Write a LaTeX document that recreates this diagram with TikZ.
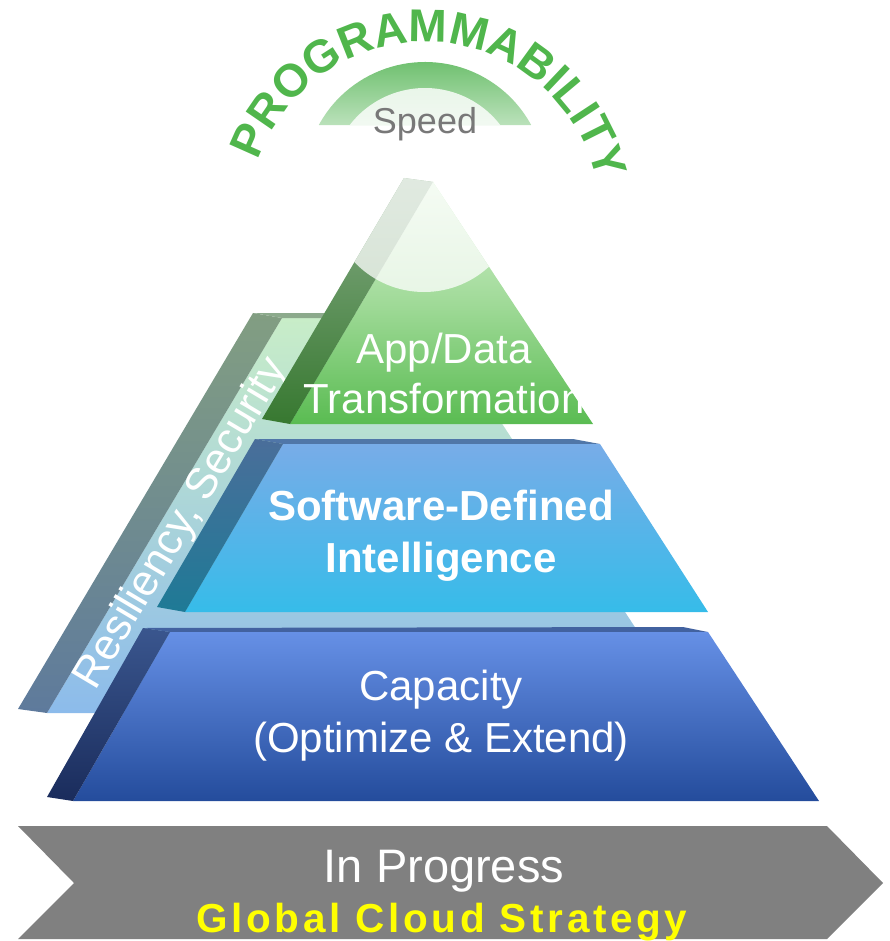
\documentclass[tikz,border=0pt]{standalone}
\usepackage{fontspec}
\setmainfont{Liberation Sans}
\usetikzlibrary{decorations.text}
\definecolor{progGreen}{RGB}{80,182,76}
\definecolor{speedGray}{RGB}{120,120,120}
\definecolor{ringGreen}{RGB}{92,184,92}
\definecolor{ringPale}{RGB}{232,245,232}
\definecolor{backFaceTop}{RGB}{200,237,200}
\definecolor{backFaceBot}{RGB}{140,187,235}
\definecolor{backEdgeTop}{RGB}{130,158,130}
\definecolor{backEdgeBot}{RGB}{94,122,156}
\definecolor{backBevel}{RGB}{140,170,140}
\definecolor{appTop}{RGB}{215,242,210}
\definecolor{appMid}{RGB}{160,218,152}
\definecolor{appBot}{RGB}{90,188,82}
\definecolor{appEdgeTop}{RGB}{135,172,135}
\definecolor{appEdgeBot}{RGB}{55,120,48}
\definecolor{sdiTop}{RGB}{120,172,232}
\definecolor{sdiBot}{RGB}{54,188,233}
\definecolor{sdiEdgeTop}{RGB}{74,110,154}
\definecolor{sdiEdgeBot}{RGB}{30,122,150}
\definecolor{sdiBevel}{RGB}{80,118,168}
\definecolor{capTop}{RGB}{102,144,230}
\definecolor{capBot}{RGB}{36,76,156}
\definecolor{capEdgeTop}{RGB}{58,86,142}
\definecolor{capEdgeBot}{RGB}{26,44,92}
\definecolor{capBevel}{RGB}{66,98,160}
\definecolor{chevGray}{RGB}{128,128,128}
\definecolor{goldYellow}{RGB}{255,255,0}
\begin{document}
\begin{tikzpicture}[x=1pt,y=-1pt,
  lbl/.style={text=white, inner sep=0pt, anchor=base},
  regfont/.style={font=\fontsize{42}{42}\selectfont},
  boldfont/.style={font=\fontsize{42}{42}\selectfont\bfseries}]
\useasboundingbox (0,0) rectangle (889,941);

% speed ring
\shade[top color=ringGreen, bottom color=white] (425,183) ++(208.6:121) arc[start angle=208.6, end angle=331.4, radius=121] -- cycle;
\shade[top color=ringPale, bottom color=white] (425,183) ++(217.6:95) arc[start angle=217.6, end angle=322.4, radius=95] -- cycle;
\node[text=speedGray, inner sep=0pt, anchor=base, font=\fontsize{36}{36}\selectfont] (speed) at (425,134) {Speed};

% programmability arc text
\path[decorate, decoration={text along path, text align=center, text color=progGreen,
  text={|\fontsize{46}{46}\selectfont\bfseries|PROGRAMMABILITY}}]
  (425,218) ++(183.5:176) arc[start angle=183.5, end angle=363.5, radius=176];

% back layer (resiliency, security)
\shade[top color=backFaceTop, bottom color=backFaceBot] (282,318) -- (433,318) -- (691,713) -- (47,713) -- cycle;
\shade[top color=backEdgeTop, bottom color=backEdgeBot] (253,313) -- (282,318) -- (47,713) -- (18,709) -- cycle;
\fill[backBevel] (253,313) -- (428,313) -- (433,318) -- (282,318) -- cycle;
\node[text=white, inner sep=0pt, font=\fontsize{43.5}{43.5}\selectfont, rotate=59.2] (res) at (182,524) {Resiliency, Security};

% top layer
\shade[top color=appTop, bottom color=appBot, middle color=appMid] (433,182) -- (593,424) -- (290,424) -- cycle;
\shade[top color=appEdgeTop, bottom color=appEdgeBot] (404,178) -- (433,182) -- (290,424) -- (262,419) -- cycle;
\begin{scope}
  \clip (404,178) -- (433,182) -- (593,424) -- (290,424) -- (262,419) -- cycle;
  \fill[white, opacity=0.75] (424,196) circle[radius=96];
\end{scope}

% middle layer
\fill[sdiBevel] (255,439) -- (573,439) -- (600,444) -- (283,444) -- cycle;
\shade[top color=sdiTop, bottom color=sdiBot] (283,444) -- (600,444) -- (708,612) -- (185,612) -- cycle;
\shade[top color=sdiEdgeTop, bottom color=sdiEdgeBot] (255,439) -- (283,444) -- (185,612) -- (157,607) -- cycle;

% bottom layer
\fill[capBevel] (143,628) -- (683,627) -- (708,632) -- (170,632) -- cycle;
\shade[top color=capTop, bottom color=capBot] (170,632) -- (708,632) -- (819,801) -- (73,801) -- cycle;
\shade[top color=capEdgeTop, bottom color=capEdgeBot] (143,628) -- (170,632) -- (73,801) -- (47,797) -- cycle;

% layer labels
\node[lbl, regfont] (app1) at (444,363) {App/Data};
\node[lbl, regfont] (app2) at (444,413) {Transformation};
\node[lbl, boldfont] (sdi1) at (441,520) {Software-Defined};
\node[lbl, boldfont] (sdi2) at (441,572) {Intelligence};
\node[lbl, regfont] (cap1) at (441,700) {Capacity};
\node[lbl, regfont] (cap2) at (441,752) {(Optimize \& Extend)};

% chevron
\fill[chevGray] (18,826) -- (827,826) -- (883,883) -- (827,939) -- (18,939) -- (74,883) -- cycle;
\node[lbl, font=\fontsize{47}{47}\selectfont] (inprog) at (444,882) {In Progress};
\node[lbl, text=goldYellow, font=\fontsize{40.5}{40.5}\selectfont\bfseries\addfontfeatures{LetterSpace=9}] (gcs) at (442,932) {Global Cloud Strategy};
\end{tikzpicture}
\end{document}
